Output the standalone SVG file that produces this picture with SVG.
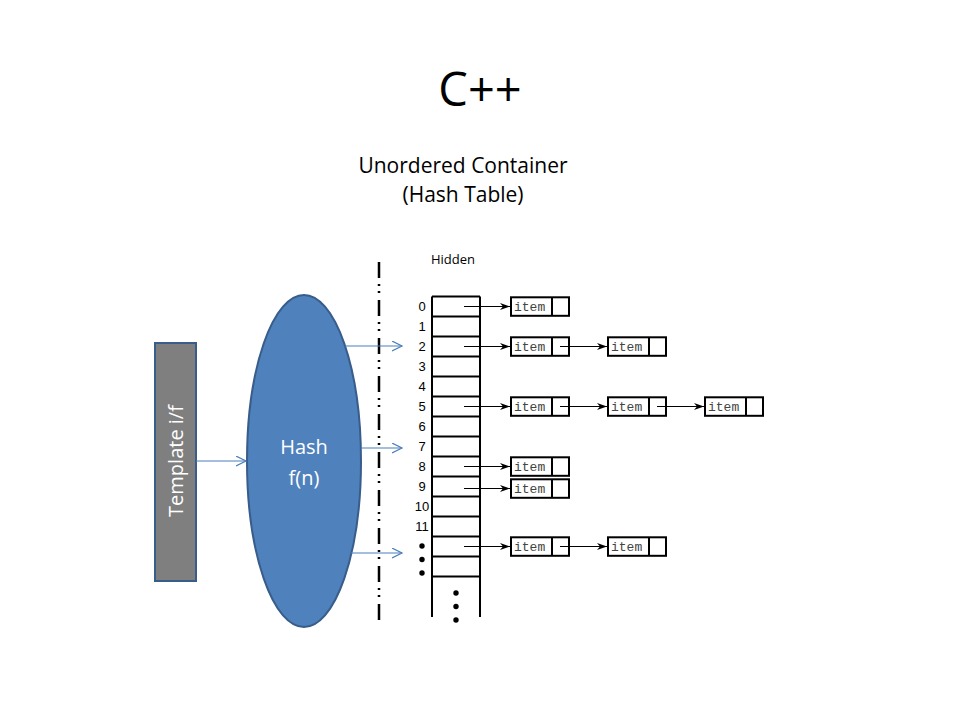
<svg xmlns="http://www.w3.org/2000/svg" width="960" height="720" viewBox="0 0 960 720">
<style>
.t{font-family:"Open Sans","Liberation Sans",sans-serif;fill:#000}
.w{font-family:"Open Sans","Liberation Sans",sans-serif;fill:#fff;font-size:20px;text-anchor:middle}
.num{font-family:"Liberation Sans",Arial,sans-serif;font-size:13px;text-anchor:middle;fill:#000}
.it{font-family:"Liberation Mono","Courier New",monospace;font-size:13px;fill:#444}
.box{fill:#fff;stroke:#000;stroke-width:2}
.tb{fill:none;stroke:#000;stroke-width:2}
.ba{stroke:#000;stroke-width:1.2;fill:none;marker-end:url(#ah)}
.bl{stroke:#4A7EBB;stroke-width:1.2;fill:none;marker-end:url(#oh)}
</style>
<defs>
<marker id="ah" markerUnits="userSpaceOnUse" markerWidth="11" markerHeight="8" refX="10" refY="3.5" orient="auto">
<path d="M0,0 L10,3.5 L0,7 L3,3.5 z" fill="#000"/>
</marker>
<marker id="oh" markerUnits="userSpaceOnUse" markerWidth="12" markerHeight="12" refX="10" refY="5" orient="auto">
<path d="M0,0 L10,5 L0,10" fill="none" stroke="#4A7EBB" stroke-width="1.2"/>
</marker>
</defs>
<rect width="960" height="720" fill="#fff"/>
<text class="t" x="480" y="106" font-size="47" text-anchor="middle">C++</text>
<text class="t" x="463" y="173" font-size="21" text-anchor="middle">Unordered Container</text>
<text class="t" x="463" y="202" font-size="21" text-anchor="middle">(Hash Table)</text>
<text class="t" x="453" y="264" font-size="13" text-anchor="middle">Hidden</text>
<line x1="379" y1="262" x2="379" y2="621" stroke="#000" stroke-width="2.5" stroke-dasharray="16 6 2 5 2 7"/>
<g id="template">
<rect x="155" y="343" width="41" height="238" fill="#7F7F7F" stroke="#385D8A" stroke-width="2"/>
<text class="w" transform="translate(183,461) rotate(-90)">Template i/f</text>
</g>
<g id="hash">
<ellipse cx="304" cy="461" rx="57" ry="166" fill="#4F81BD" stroke="#385D8A" stroke-width="2"/>
<text class="w" x="304" y="454" font-size="21">Hash</text>
<text class="w" x="304" y="485" font-size="21">f(n)</text>
</g>
<g id="table">
<path class="tb" d="M432,296.5 H480 M432,316.5 H480 M432,336.5 H480 M432,356.5 H480 M432,376.5 H480 M432,396.5 H480 M432,416.5 H480 M432,436.5 H480 M432,456.5 H480 M432,476.5 H480 M432,496.5 H480 M432,516.5 H480 M432,536.5 H480 M432,556.5 H480 M432,576.5 H480 M432,296.5 V617 M480,296.5 V617"/>
<text class="num" x="422" y="311">0</text>
<text class="num" x="422" y="331">1</text>
<text class="num" x="422" y="351">2</text>
<text class="num" x="422" y="371">3</text>
<text class="num" x="422" y="391">4</text>
<text class="num" x="422" y="411">5</text>
<text class="num" x="422" y="431">6</text>
<text class="num" x="422" y="451">7</text>
<text class="num" x="422" y="471">8</text>
<text class="num" x="422" y="491">9</text>
<text class="num" x="422" y="511">10</text>
<text class="num" x="422" y="531">11</text>
<circle cx="422" cy="546" r="2.7"/>
<circle cx="422" cy="559.5" r="2.7"/>
<circle cx="422" cy="573" r="2.7"/>
<circle cx="456" cy="593" r="2.7"/>
<circle cx="456" cy="606.5" r="2.7"/>
<circle cx="456" cy="620" r="2.7"/>
</g>
<g id="items">
<g id="r0"><rect class="box" x="511" y="297.3" width="58" height="18.5"/><line class="tb" x1="552" y1="297.3" x2="552" y2="315.8"/><text class="it" x="514" y="310.5">item</text></g>
<g id="r2a"><rect class="box" x="511" y="337.3" width="58" height="18.5"/><line class="tb" x1="552" y1="337.3" x2="552" y2="355.8"/><text class="it" x="514" y="350.5">item</text></g>
<g id="r2b"><rect class="box" x="608" y="337.3" width="58" height="18.5"/><line class="tb" x1="649" y1="337.3" x2="649" y2="355.8"/><text class="it" x="611" y="350.5">item</text></g>
<g id="r5a"><rect class="box" x="511" y="397.3" width="58" height="18.5"/><line class="tb" x1="552" y1="397.3" x2="552" y2="415.8"/><text class="it" x="514" y="410.5">item</text></g>
<g id="r5b"><rect class="box" x="608" y="397.3" width="58" height="18.5"/><line class="tb" x1="649" y1="397.3" x2="649" y2="415.8"/><text class="it" x="611" y="410.5">item</text></g>
<g id="r5c"><rect class="box" x="705" y="397.3" width="58" height="18.5"/><line class="tb" x1="746" y1="397.3" x2="746" y2="415.8"/><text class="it" x="708" y="410.5">item</text></g>
<g id="r8"><rect class="box" x="511" y="457.3" width="58" height="18.5"/><line class="tb" x1="552" y1="457.3" x2="552" y2="475.8"/><text class="it" x="514" y="470.5">item</text></g>
<g id="r9"><rect class="box" x="511" y="479.3" width="58" height="18.5"/><line class="tb" x1="552" y1="479.3" x2="552" y2="497.8"/><text class="it" x="514" y="492.5">item</text></g>
<g id="r12a"><rect class="box" x="511" y="537.3" width="58" height="18.5"/><line class="tb" x1="552" y1="537.3" x2="552" y2="555.8"/><text class="it" x="514" y="550.5">item</text></g>
<g id="r12b"><rect class="box" x="608" y="537.3" width="58" height="18.5"/><line class="tb" x1="649" y1="537.3" x2="649" y2="555.8"/><text class="it" x="611" y="550.5">item</text></g>
</g>
<g id="connectors">
<line class="ba" x1="464" y1="306.5" x2="510" y2="306.5"/>
<line class="ba" x1="464" y1="346.5" x2="510" y2="346.5"/>
<line class="ba" x1="560" y1="346.5" x2="607" y2="346.5"/>
<line class="ba" x1="464" y1="406.5" x2="510" y2="406.5"/>
<line class="ba" x1="560" y1="406.5" x2="607" y2="406.5"/>
<line class="ba" x1="657" y1="406.5" x2="704" y2="406.5"/>
<line class="ba" x1="464" y1="466.5" x2="510" y2="466.5"/>
<line class="ba" x1="464" y1="488.5" x2="510" y2="488.5"/>
<line class="ba" x1="464" y1="546.5" x2="510" y2="546.5"/>
<line class="ba" x1="560" y1="546.5" x2="607" y2="546.5"/>
<line class="bl" x1="196" y1="461" x2="246" y2="461"/>
<line class="bl" x1="345" y1="346" x2="402" y2="346"/>
<line class="bl" x1="361" y1="448" x2="402" y2="448"/>
<line class="bl" x1="351" y1="553" x2="402" y2="553"/>
</g>
</svg>
